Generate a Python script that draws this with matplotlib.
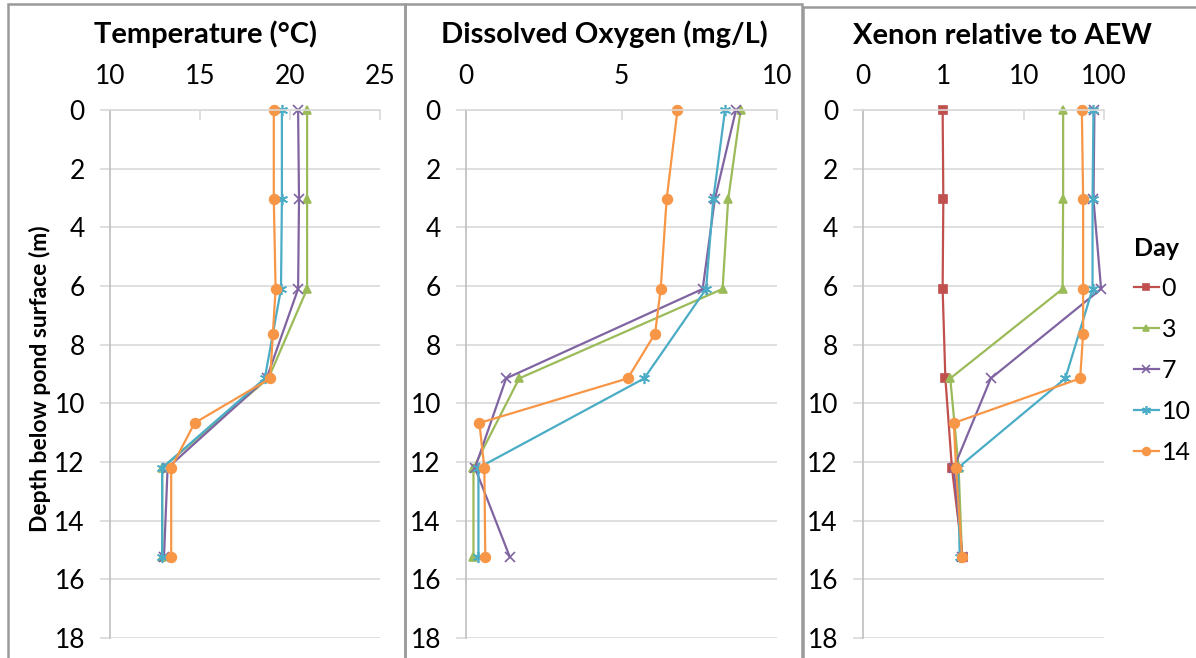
import numpy as np
import matplotlib
matplotlib.use("Agg")
import matplotlib.pyplot as plt
from matplotlib.patches import Rectangle
from matplotlib.ticker import FixedLocator, FixedFormatter

plt.rcParams['font.family'] = ['Lato', 'DejaVu Sans']

# --- data ---
days = ['0', '3', '7', '10', '14']
depth = [0, 3.05, 6.1, 9.15, 12.2, 15.24]                  # days 0, 3, 7, 10
depth_14 = [0, 3.05, 6.1, 7.62, 9.15, 10.67, 12.2, 15.24]  # day 14 has extra depths

temp_3 = [20.95, 20.95, 20.95, 18.8, 12.9, 12.9]
temp_7 = [20.45, 20.5, 20.45, 18.7, 13.2, 13.0]
temp_10 = [19.55, 19.55, 19.5, 18.6, 12.9, 12.9]
temp_14 = [19.1, 19.1, 19.2, 19.05, 18.9, 14.7, 13.4, 13.4]

do_3 = [8.83, 8.43, 8.25, 1.71, 0.24, 0.24]
do_7 = [8.68, 8.0, 7.61, 1.29, 0.29, 1.41]
do_10 = [8.33, 7.95, 7.72, 5.73, 0.4, 0.4]
do_14 = [6.8, 6.45, 6.26, 6.08, 5.2, 0.43, 0.59, 0.62]

xe_0 = [0.98, 1.0, 0.98, 1.06, 1.28, 1.74]
xe_3 = [31, 31, 30.5, 1.22, 1.55, 1.71]
xe_7 = [76, 74, 92, 3.9, 1.35, 1.73]
xe_10 = [74, 72, 72, 33, 1.52, 1.6]
xe_14 = [53, 55, 55, 55, 50.5, 1.35, 1.44, 1.71]

colors = {'0': '#C0504D', '3': '#9BBB59', '7': '#8064A2', '10': '#4BACC6', '14': '#F79646'}
markers = {'0': 's', '3': '^', '7': 'x', '10': (6, 2, 0), '14': 'o'}
msize = {'0': 6, '3': 6, '7': 7, '10': 8, '14': 7}

W, H = 1196, 658
fig = plt.figure(figsize=(W / 100, H / 100), dpi=100)


def px_axes(left, right, top=110, bottom=638):
    return fig.add_axes([left / W, 1 - bottom / H, (right - left) / W, (bottom - top) / H])


def style_axes(ax):
    ax.set_ylim(18, 0)
    ax.set_yticks(np.arange(0, 19, 2))
    ax.xaxis.tick_top()
    ax.grid(axis='y', color='#d9d9d9', linewidth=1.2)
    ax.set_axisbelow(True)
    for s in ['right', 'bottom']:
        ax.spines[s].set_visible(False)
    ax.spines['left'].set_color('#bfbfbf')
    ax.spines['left'].set_linewidth(1.2)
    ax.spines['top'].set_color('#d9d9d9')
    ax.spines['top'].set_linewidth(1.2)
    ax.tick_params(axis='y', direction='out', length=7, color='#d9d9d9',
                   labelsize=19, pad=11, width=1.2)
    ax.tick_params(axis='x', which='both', direction='in', length=7, color='#d9d9d9',
                   labelsize=19, pad=15, width=1.2)
    ax.tick_params(axis='x', which='minor', length=0)


def draw(ax, series):
    for day, d, v in series:
        ax.plot(v, d, color=colors[day], marker=markers[day], markersize=msize[day],
                linewidth=1.6, markeredgewidth=1.2, label=day, clip_on=False)


# frames around each chart (Excel chart areas)
for x0, x1, y0 in [(8, 405, 4), (405, 802, 4), (803, 1200, 7)]:
    fig.patches.append(Rectangle((x0 / W, -0.02), (x1 - x0) / W, 1.02 - y0 / H,
                                 transform=fig.transFigure, fill=False,
                                 edgecolor='#9a9a9a', linewidth=1.8))

# --- Temperature ---
ax1 = px_axes(110, 380)
style_axes(ax1)
ax1.set_xlim(10, 25)
ax1.set_xticks([10, 15, 20, 25])
draw(ax1, [('3', depth, temp_3), ('7', depth, temp_7),
           ('10', depth, temp_10), ('14', depth_14, temp_14)])

# --- Dissolved oxygen ---
ax2 = px_axes(466, 777)
style_axes(ax2)
ax2.set_xlim(0, 10)
ax2.set_xticks([0, 5, 10])
draw(ax2, [('3', depth, do_3), ('7', depth, do_7),
           ('10', depth, do_10), ('14', depth_14, do_14)])

# --- Xenon ---
ax3 = px_axes(863, 1104)
ax3.set_xscale('log')
style_axes(ax3)
ax3.set_xlim(0.1, 100)
ax3.xaxis.set_major_locator(FixedLocator([0.1, 1, 10, 100]))
ax3.xaxis.set_major_formatter(FixedFormatter(['0', '1', '10', '100']))
ax3.xaxis.set_minor_locator(FixedLocator([]))
draw(ax3, [('0', depth, xe_0), ('3', depth, xe_3), ('7', depth, xe_7),
           ('10', depth, xe_10), ('14', depth_14, xe_14)])

# titles are centred on each chart frame, like Excel does
title_kw = dict(fontsize=21, fontweight='bold', ha='center', va='center')
fig.text(206 / W, 1 - 34 / H, 'Temperature (°C)', **title_kw)
fig.text(604 / W, 1 - 34 / H, 'Dissolved Oxygen (mg/L)', **title_kw)
fig.text(1002 / W, 1 - 36 / H, 'Xenon relative to AEW', **title_kw)
fig.text(40 / W, 1 - 379 / H, 'Depth below pond surface (m)', rotation=90,
         fontsize=16.5, fontweight='bold', ha='center', va='center')

handles, labels = ax3.get_legend_handles_labels()
leg = fig.legend(handles, labels, loc='upper left', bbox_to_anchor=(1116 / W, 1 - 220 / H),
                 frameon=False, fontsize=18, title='Day', handlelength=1.0,
                 handletextpad=0.12, labelspacing=0.72, borderpad=0.2, markerscale=0.8)
leg.get_title().set_fontweight('bold')
leg.get_title().set_fontsize(18)
leg._legend_box.align = 'left'
leg._legend_box.sep = 12

fig.savefig('out.png', dpi=100)
